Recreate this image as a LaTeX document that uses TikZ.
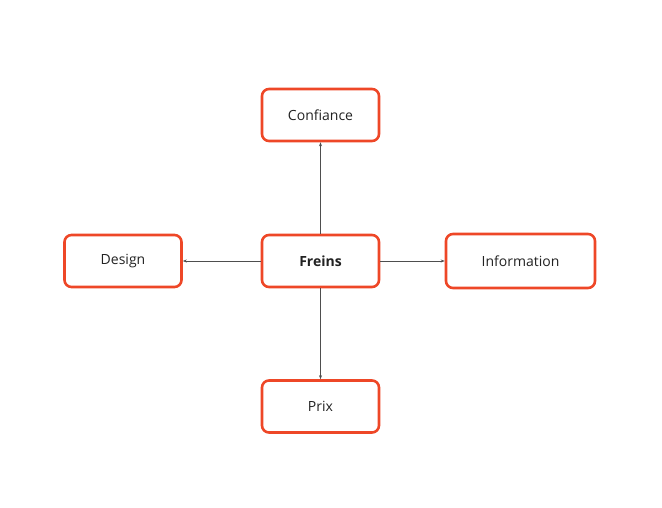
\documentclass[tikz,border=0pt]{standalone}
\usepackage{fontspec}
\setmainfont{Open Sans}
\usetikzlibrary{arrows.meta}
\definecolor{boxred}{HTML}{EE4727}
\definecolor{txt}{HTML}{222222}
\begin{document}
\begin{tikzpicture}[x=1pt,y=-1pt,
  box/.style={draw=boxred,line width=2.6pt,rounded corners=7pt,minimum width=117pt,minimum height=52pt,inner sep=0pt,font=\fontsize{14}{16}\selectfont,text=txt},
  link/.style={draw=txt!80,line width=0.6pt,-{Stealth[length=4pt,width=3pt]}}]
\useasboundingbox (0,0) rectangle (662,508);
\node[box] (f) at (320.5,261) {\textbf{Freins}};
\node[box] (c) at (320.5,115) {Confiance};
\node[box] (d) at (123,261) {Design};
\node[box,minimum width=149pt,minimum height=54pt] (i) at (520.5,261) {Information};
\node[box] (p) at (320.5,406.5) {Prix};
\draw[link] (f) -- (c);
\draw[link] (f) -- (d);
\draw[link] (f) -- (i);
\draw[link] (f) -- (p);
\end{tikzpicture}
\end{document}
